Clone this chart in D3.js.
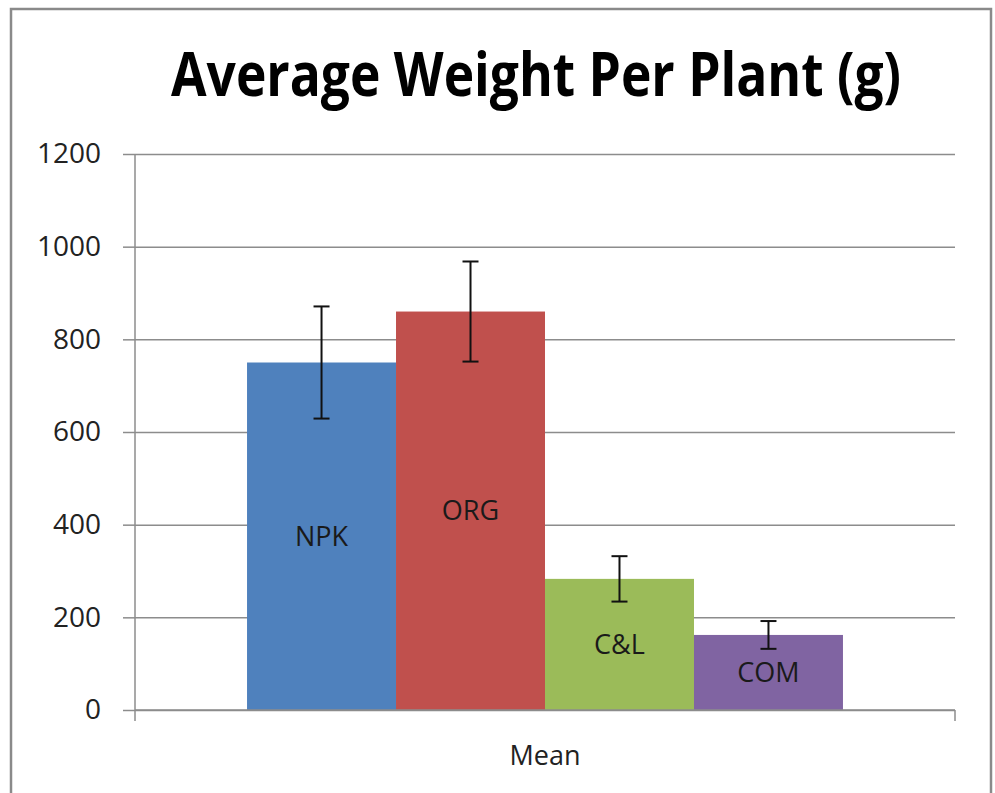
<!DOCTYPE html>
<html><head><meta charset="utf-8">
<script src="https://cdn.jsdelivr.net/npm/d3@7"></script>
<style>body{margin:0;background:#fff}svg{display:block}</style>
</head><body>
<script>
const title = "Average Weight Per Plant (g)";
const category = "Mean";
const series = ["NPK", "ORG", "C&L", "COM"];
const values = [750, 860, 283, 162];
const errors = [121, 108, 49, 30];
const colors = ["#4F81BD", "#C0504D", "#9BBB59", "#8064A2"];
const yTicks = [0, 200, 400, 600, 800, 1000, 1200];

const W = 995, H = 793;
const svg = d3.select("body").append("svg").attr("width", W).attr("height", H);
const font = "'Open Sans', 'Noto Sans', sans-serif";

// outer frame
svg.append("rect").attr("x", 11).attr("y", 9).attr("width", 980).attr("height", 800)
  .attr("fill", "#fff").attr("stroke", "#8a8a8a").attr("stroke-width", 2.5);

const plot = {left: 135, right: 955, top: 154, bottom: 710};
const y = d3.scaleLinear().domain([0, 1200]).range([plot.bottom, plot.top]);
const xOuter = d3.scaleBand().domain([category]).range([plot.left, plot.right]).paddingInner(0).paddingOuter(0.188);
const x = d3.scaleBand().domain(series).range([xOuter(category), xOuter(category) + xOuter.bandwidth()]);

// gridlines + y axis
const yAxis = d3.axisLeft(y).tickValues(yTicks).tickSize(plot.right - plot.left).tickFormat(d3.format("d"));
const gy = svg.append("g").attr("transform", `translate(${plot.right},0)`).call(yAxis);
gy.select(".domain").remove();
gy.selectAll(".tick line").attr("stroke", "#8c8c8c").attr("stroke-width", 1.5);
gy.selectAll(".tick text").attr("x", -(plot.right - plot.left) - 34).attr("font-family", font).attr("font-size", 28).attr("fill", "#222");
// tick stubs left of axis
const stubs = d3.axisLeft(y).tickValues(yTicks).tickSize(12).tickFormat("");
const gs = svg.append("g").attr("transform", `translate(${plot.left},0)`).call(stubs);
gs.select(".domain").remove();
gs.selectAll(".tick line").attr("stroke", "#8c8c8c").attr("stroke-width", 1.5);
// y axis line
svg.append("line").attr("x1", plot.left).attr("x2", plot.left).attr("y1", plot.top).attr("y2", plot.bottom + 11)
  .attr("stroke", "#8c8c8c").attr("stroke-width", 1.5);

// bars
const data = series.map((s, i) => ({s, v: values[i], e: errors[i], c: colors[i]}));
svg.selectAll("rect.bar").data(data).enter().append("rect").attr("class", "bar")
  .attr("x", d => x(d.s)).attr("width", x.bandwidth())
  .attr("y", d => y(d.v)).attr("height", d => y(0) - y(d.v)).attr("fill", d => d.c);

// x axis line
svg.append("line").attr("x1", plot.left).attr("x2", plot.right).attr("y1", plot.bottom).attr("y2", plot.bottom)
  .attr("stroke", "#8c8c8c").attr("stroke-width", 1.5);
svg.append("line").attr("x1", plot.right).attr("x2", plot.right).attr("y1", plot.bottom).attr("y2", plot.bottom + 11)
  .attr("stroke", "#8c8c8c").attr("stroke-width", 1.5);

// error bars
const eb = svg.selectAll("g.err").data(data).enter().append("g").attr("stroke", "#111").attr("stroke-width", 2);
const cx = d => x(d.s) + x.bandwidth() / 2;
eb.append("line").attr("x1", cx).attr("x2", cx).attr("y1", d => y(d.v + d.e)).attr("y2", d => y(d.v - d.e));
eb.append("line").attr("x1", d => cx(d) - 8).attr("x2", d => cx(d) + 8).attr("y1", d => y(d.v + d.e)).attr("y2", d => y(d.v + d.e));
eb.append("line").attr("x1", d => cx(d) - 8).attr("x2", d => cx(d) + 8).attr("y1", d => y(d.v - d.e)).attr("y2", d => y(d.v - d.e));

// data labels
svg.selectAll("text.lbl").data(data).enter().append("text").attr("class", "lbl")
  .attr("x", cx).attr("y", d => y(d.v / 2)).attr("dy", "0.35em")
  .attr("text-anchor", "middle").attr("font-family", font).attr("font-size", 27).attr("fill", "#1a1a1a")
  .text(d => d.s);

// category label
svg.append("text").attr("x", xOuter(category) + xOuter.bandwidth() / 2).attr("y", 765)
  .attr("text-anchor", "middle").attr("font-family", font).attr("font-size", 27).attr("fill", "#222")
  .text(category);

// title (narrowed and stretched vertically to mimic a condensed face)
svg.append("g").attr("transform", "translate(536,96) scale(1,1.2)")
  .append("text").attr("x", 0).attr("y", 0).attr("text-anchor", "middle")
  .attr("font-family", font).attr("font-weight", "bold").attr("font-size", 50).attr("fill", "#000")
  .attr("textLength", 730).attr("lengthAdjust", "spacingAndGlyphs")
  .text(title);
</script>
</body></html>
